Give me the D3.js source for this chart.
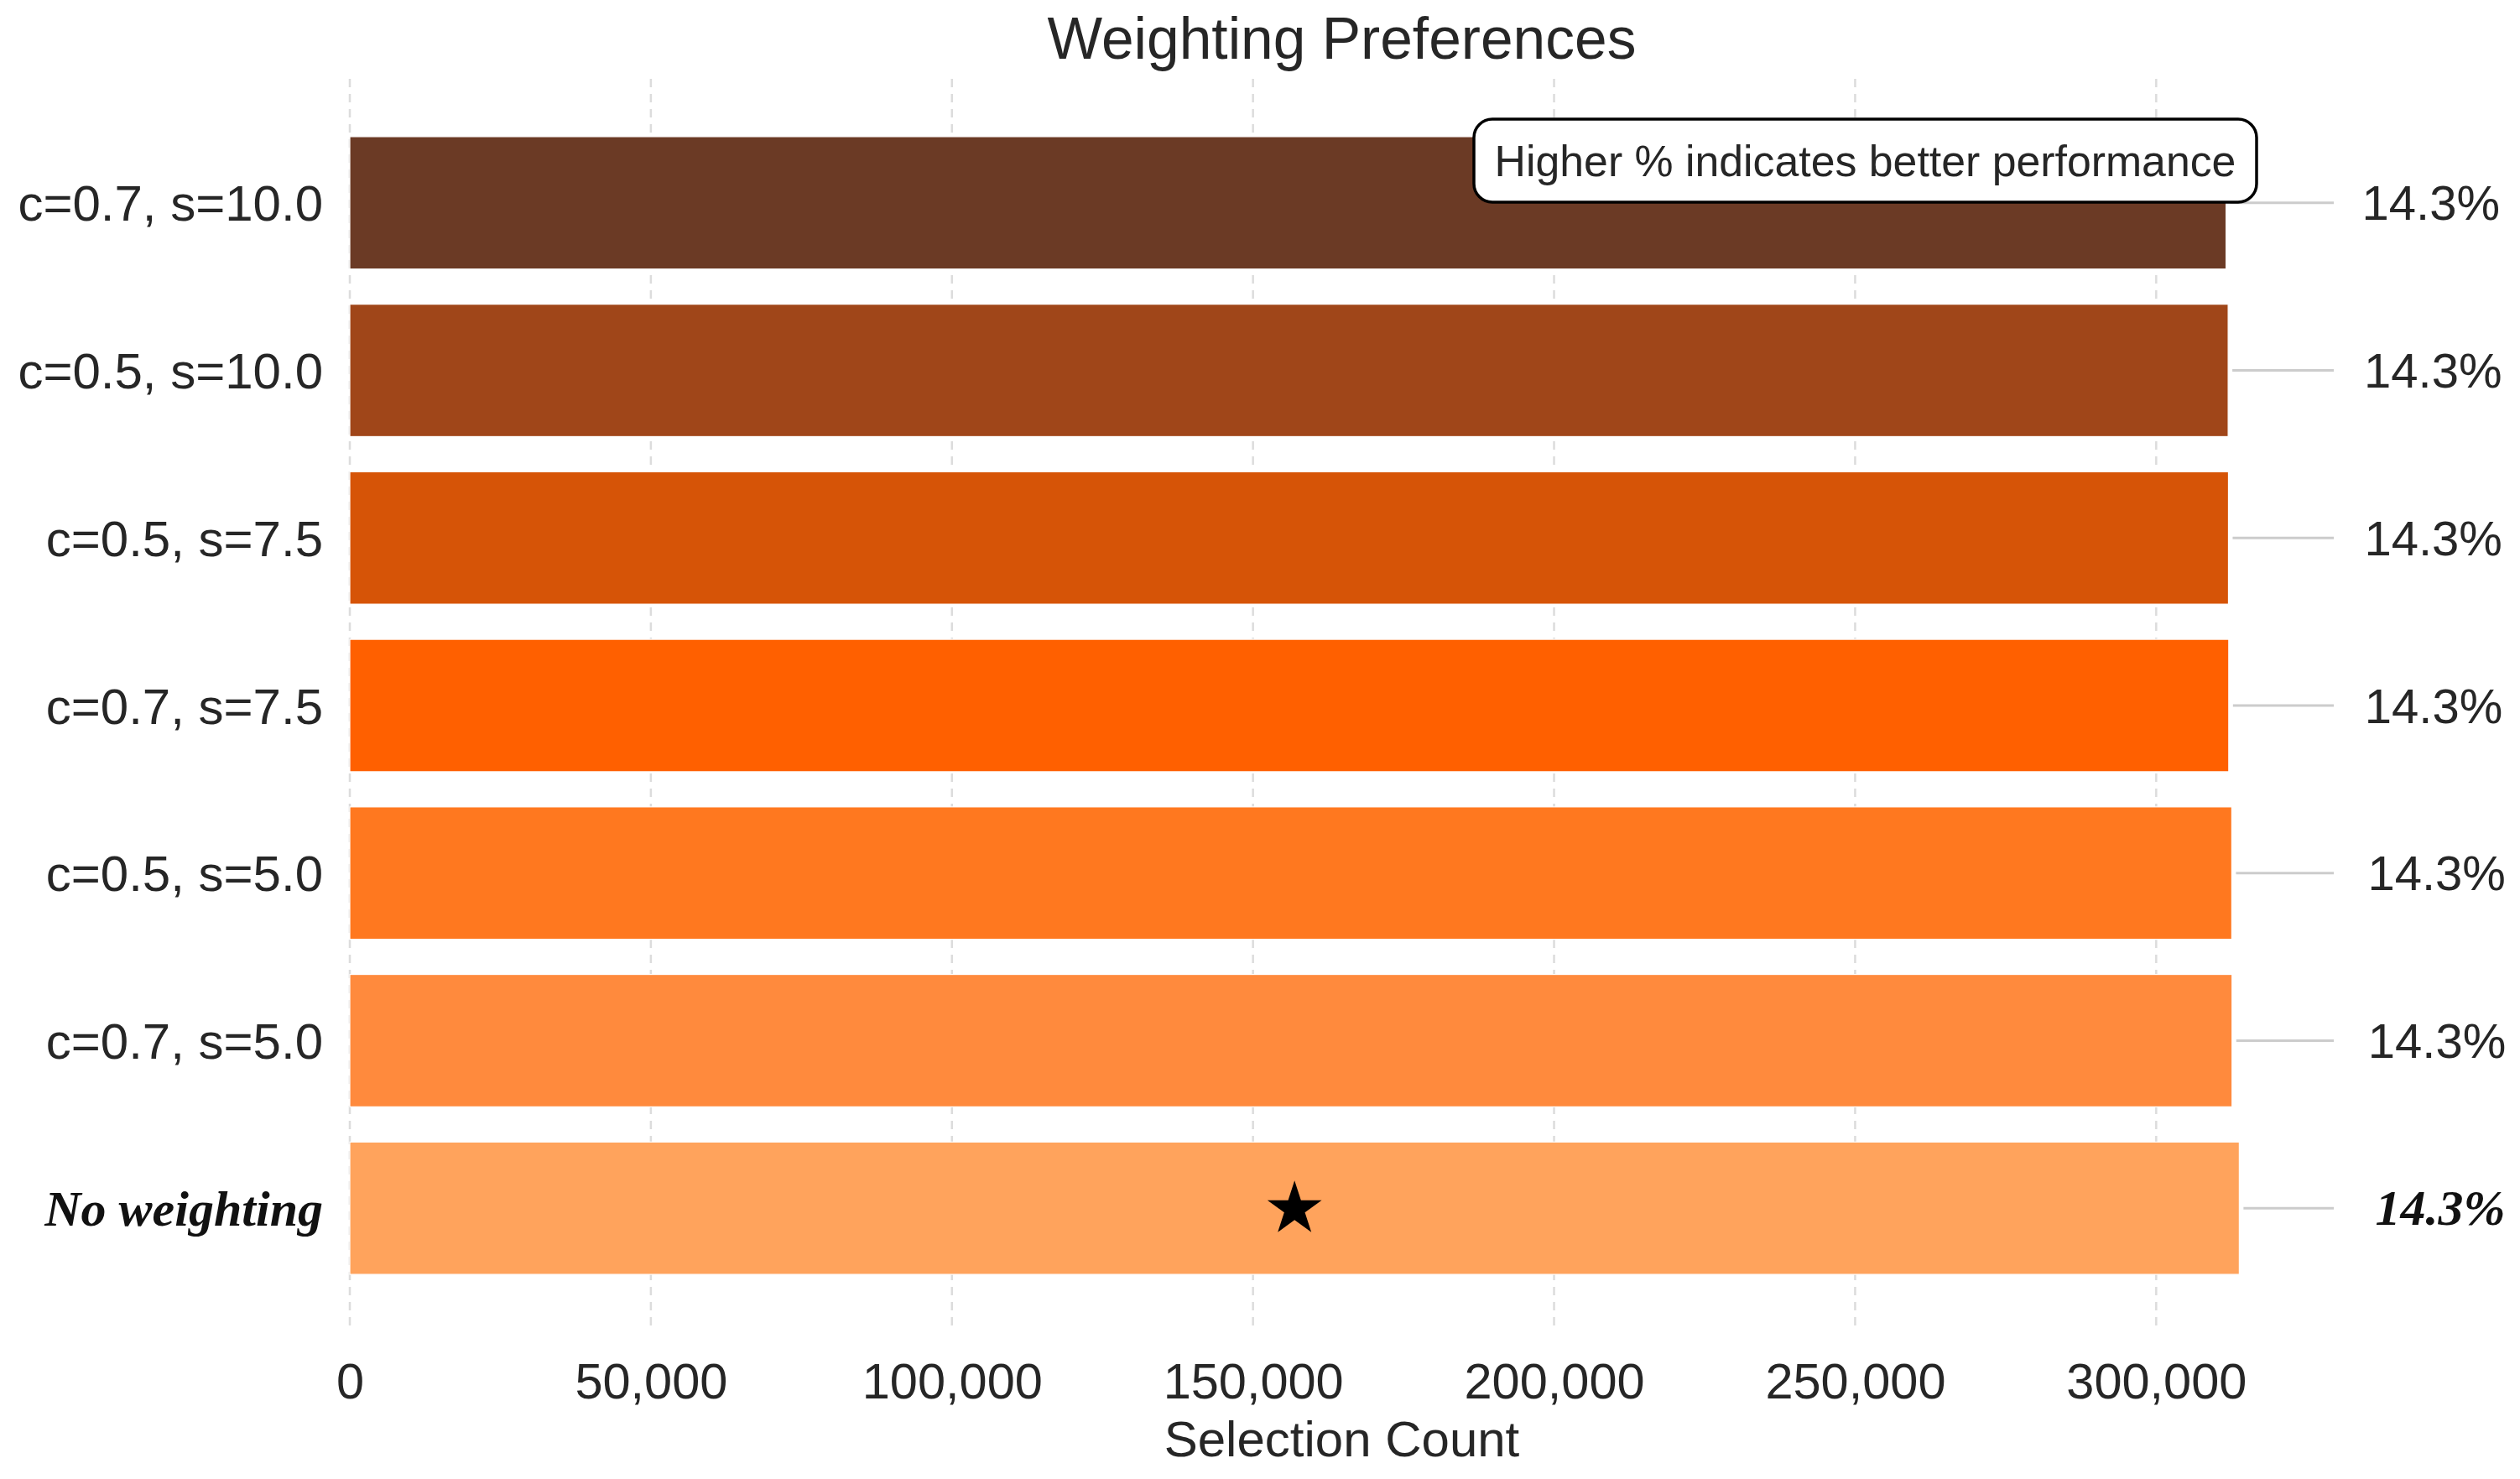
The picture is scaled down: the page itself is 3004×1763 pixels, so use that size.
<!DOCTYPE html>
<html>
<head>
<meta charset="utf-8">
<script src="https://cdn.jsdelivr.net/npm/d3@7"></script>
<style>
  html, body { margin: 0; padding: 0; background: #ffffff; }
  svg { display: block; }
</style>
</head>
<body>
<script>
// ---- Data ----
const categories = ["c=0.7, s=10.0", "c=0.5, s=10.0", "c=0.5, s=7.5", "c=0.7, s=7.5", "c=0.5, s=5.0", "c=0.7, s=5.0", "No weighting"];
const selectionCounts = [311600, 311950, 312000, 312050, 312550, 312600, 313800];
const percentLabels = ["14.3%", "14.3%", "14.3%", "14.3%", "14.3%", "14.3%", "14.3%"];
const barColors = ["#6B3A25", "#A04619", "#D65407", "#FF6000", "#FF781F", "#FF8A3D", "#FFA35C"];
const xTickValues = [0, 50000, 100000, 150000, 200000, 250000, 300000];
const highlighted = "No weighting";
const titleText = "Weighting Preferences";
const xLabelText = "Selection Count";
const noteText = "Higher % indicates better performance";

(function () {
// ---- Layout ----
const W = 3004, H = 1763;
const pLeft = 417, pRight = 2782, pTop = 94, pBottom = 1588;
const sans = "'Liberation Sans', Arial, sans-serif";
const serif = "'Liberation Serif', 'Times New Roman', serif";
const textColor = "#262626";

const svg = d3.select("body").append("svg").attr("width", W).attr("height", H);
svg.append("rect").attr("width", W).attr("height", H).attr("fill", "#fff");

const xMax = d3.max(selectionCounts) * 1.05;
const x = d3.scaleLinear().domain([0, xMax]).range([pLeft, pRight]);
const y = d3.scaleLinear().domain([-0.74, categories.length - 1 + 0.74]).range([pTop, pBottom]);
const barH = 0.79 * (y(1) - y(0));

// gridlines
svg.append("g").selectAll("line").data(xTickValues).join("line")
  .attr("x1", d => x(d)).attr("x2", d => x(d))
  .attr("y1", pTop).attr("y2", pBottom)
  .attr("stroke", "#dcdcdc").attr("stroke-width", 2.5)
  .attr("stroke-dasharray", "10,8");

// x axis tick labels via d3 axis
const xAxis = d3.axisBottom(x).tickValues(xTickValues).tickFormat(d3.format(",")).tickSize(0).tickPadding(0);
const gx = svg.append("g").attr("transform", `translate(0,${pBottom})`).call(xAxis);
gx.select(".domain").remove();
gx.selectAll("text")
  .attr("font-family", sans).attr("font-size", 59.5).attr("fill", textColor)
  .attr("dy", null).attr("y", 79);

// bars
const rows = categories.map((c, i) => ({ cat: c, v: selectionCounts[i], p: percentLabels[i], col: barColors[i], i }));
svg.append("g").selectAll("rect").data(rows).join("rect")
  .attr("x", x(0)).attr("y", d => y(d.i) - barH / 2)
  .attr("width", d => x(d.v) - x(0)).attr("height", barH)
  .attr("fill", d => d.col)
  .attr("stroke", "#ffffff").attr("stroke-width", 1.2);

// y category labels
svg.append("g").selectAll("text").data(rows).join("text")
  .attr("x", 385).attr("y", d => y(d.i) + 1)
  .attr("text-anchor", "end").attr("dominant-baseline", "central")
  .attr("font-family", d => d.cat === highlighted ? serif : sans)
  .attr("font-weight", d => d.cat === highlighted ? "bold" : "normal")
  .attr("font-style", d => d.cat === highlighted ? "italic" : "normal")
  .attr("font-size", d => d.cat === highlighted ? 60 : 60)
  .attr("fill", d => d.cat === highlighted ? "#111" : textColor)
  .text(d => d.cat);

// connector lines
svg.append("g").selectAll("line").data(rows).join("line")
  .attr("x1", d => x(d.v) + 5).attr("x2", pRight)
  .attr("y1", d => y(d.i)).attr("y2", d => y(d.i))
  .attr("stroke", "#cccccc").attr("stroke-width", 3);

// value labels
svg.append("g").selectAll("text").data(rows).join("text")
  .attr("x", d => x(d.v) + 162).attr("y", d => y(d.i))
  .attr("dominant-baseline", "central")
  .attr("font-family", d => d.cat === highlighted ? serif : sans)
  .attr("font-weight", d => d.cat === highlighted ? "bold" : "normal")
  .attr("font-style", d => d.cat === highlighted ? "italic" : "normal")
  .attr("font-size", d => d.cat === highlighted ? 60 : 58)
  .attr("fill", d => d.cat === highlighted ? "#111" : textColor)
  .text(d => d.p);

// star on highlighted bar
const hl = rows.find(d => d.cat === highlighted);
svg.append("path")
  .attr("d", d3.symbol(d3.symbolStar, 1300)())
  .attr("transform", `translate(${x(hl.v / 2)},${y(hl.i) + 1})`)
  .attr("fill", "#000");

// annotation box
const boxX = 1757, boxY = 142, boxW = 933, boxH = 99;
svg.append("rect")
  .attr("x", boxX).attr("y", boxY).attr("width", boxW).attr("height", boxH)
  .attr("rx", 22).attr("ry", 22)
  .attr("fill", "#fff").attr("stroke", "#000").attr("stroke-width", 3.5);
svg.append("text")
  .attr("x", boxX + boxW / 2).attr("y", boxY + boxH / 2)
  .attr("text-anchor", "middle").attr("dominant-baseline", "central")
  .attr("font-family", sans).attr("font-size", 51.8).attr("fill", textColor)
  .text(noteText);

// title
svg.append("text")
  .attr("x", (pLeft + pRight) / 2).attr("y", 70)
  .attr("text-anchor", "middle")
  .attr("font-family", sans).attr("font-size", 69.5).attr("fill", textColor)
  .text(titleText);

// x label
svg.append("text")
  .attr("x", (pLeft + pRight) / 2).attr("y", 1736)
  .attr("text-anchor", "middle")
  .attr("font-family", sans).attr("font-size", 60).attr("fill", textColor)
  .text(xLabelText);
})();
</script>
</body>
</html>
